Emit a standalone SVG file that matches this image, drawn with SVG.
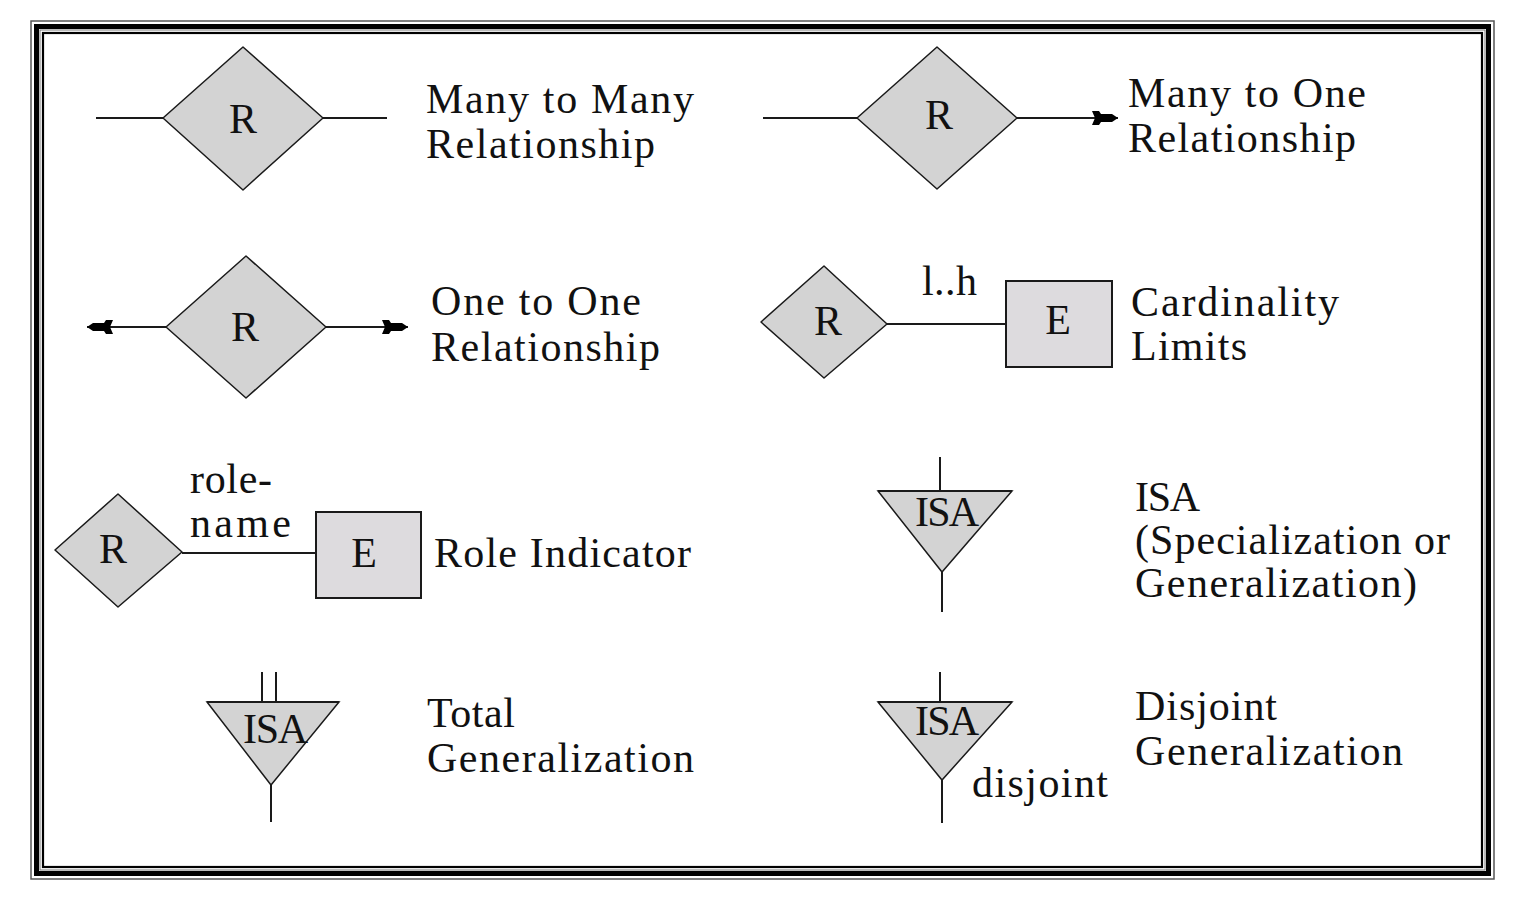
<svg xmlns="http://www.w3.org/2000/svg" width="1513" height="914" viewBox="0 0 1513 914">
<style>
.t{font-family:"Liberation Serif","Times New Roman",serif;font-size:42px;fill:#111}
.c{text-anchor:middle}
.ln{stroke:#1a1a1a;stroke-width:2;fill:none}
.dm{fill:#d3d3d3;stroke:#1a1a1a;stroke-width:1.5;stroke-linejoin:round}
.en{fill:#dddbde;stroke:#1a1a1a;stroke-width:2}
.isa{fill:#d3d3d3;stroke:#1a1a1a;stroke-width:1.5}
</style>
<defs>
<marker id="ah" viewBox="-28 -9 30 18" refX="0" refY="0" markerWidth="30" markerHeight="18" markerUnits="userSpaceOnUse" orient="auto-start-reverse">
<path d="M0,0 L-6,-4 L-17,-4 L-19,-7 L-26,-7 L-23,0 L-26,7 L-19,7 L-17,4 L-6,4 Z" fill="#000"/>
</marker>
</defs>
<rect width="1513" height="914" fill="#fff"/>
<g id="frame" fill="none">
<rect x="31" y="21" width="1463" height="858" stroke="#555" stroke-width="1.5"/>
<rect x="36.5" y="26.5" width="1452" height="847" stroke="#000" stroke-width="5"/>
<rect x="40" y="30" width="1445" height="840" stroke="#777" stroke-width="1"/>
<rect x="43" y="33" width="1439" height="834" stroke="#000" stroke-width="2.2"/>
</g>
<g id="connectors">
<line class="ln" x1="96" y1="118" x2="163" y2="118"/>
<line class="ln" x1="323" y1="118" x2="387" y2="118"/>
<line class="ln" x1="763" y1="118" x2="857" y2="118"/>
<line class="ln" x1="1017" y1="118" x2="1118" y2="118" marker-end="url(#ah)"/>
<line class="ln" x1="87" y1="327" x2="166" y2="327" marker-start="url(#ah)"/>
<line class="ln" x1="326" y1="327" x2="408" y2="327" marker-end="url(#ah)"/>
<line class="ln" x1="887" y1="324" x2="1006" y2="324"/>
<line class="ln" x1="182" y1="553" x2="316" y2="553"/>
<line class="ln" x1="940" y1="457" x2="940" y2="491"/>
<line class="ln" x1="942" y1="572" x2="942" y2="612"/>
<line class="ln" x1="262" y1="672" x2="262" y2="702"/>
<line class="ln" x1="276" y1="672" x2="276" y2="702"/>
<line class="ln" x1="271" y1="785" x2="271" y2="822"/>
<line class="ln" x1="940" y1="672" x2="940" y2="702"/>
<line class="ln" x1="942" y1="780" x2="942" y2="823"/>
</g>
<g id="mm">
<polygon class="dm" points="163,118 243,47 323,118 243,190"/>
<text class="t c" x="243" y="133">R</text>
<text class="t" x="426" y="113" textLength="268" lengthAdjust="spacing">Many to Many</text>
<text class="t" x="426" y="158" textLength="229" lengthAdjust="spacing">Relationship</text>
</g>
<g id="mo">
<polygon class="dm" points="857,118 937,47 1017,118 937,189"/>
<text class="t c" x="939" y="129">R</text>
<text class="t" x="1128" y="107" textLength="238" lengthAdjust="spacing">Many to One</text>
<text class="t" x="1128" y="152" textLength="228" lengthAdjust="spacing">Relationship</text>
</g>
<g id="oo">
<polygon class="dm" points="166,327 246,256 326,327 246,398"/>
<text class="t c" x="245" y="341">R</text>
<text class="t" x="431" y="315" textLength="210" lengthAdjust="spacing">One to One</text>
<text class="t" x="431" y="361" textLength="229" lengthAdjust="spacing">Relationship</text>
</g>
<g id="card">
<polygon class="dm" points="761,322 824,266 887,324 824,378"/>
<text class="t c" x="828" y="335">R</text>
<text class="t" x="922" y="295" textLength="55" lengthAdjust="spacing">l..h</text>
<rect class="en" x="1006" y="281" width="106" height="86"/>
<text class="t c" x="1058" y="334">E</text>
<text class="t" x="1131" y="316" textLength="208" lengthAdjust="spacing">Cardinality</text>
<text class="t" x="1131" y="360" textLength="116" lengthAdjust="spacing">Limits</text>
</g>
<g id="role">
<polygon class="dm" points="55,550 118,494 182,552 118,607"/>
<text class="t c" x="113" y="563">R</text>
<text class="t" x="190" y="493" textLength="82" lengthAdjust="spacing">role-</text>
<text class="t" x="190" y="537" textLength="101" lengthAdjust="spacing">name</text>
<rect class="en" x="316" y="512" width="105" height="86"/>
<text class="t c" x="364" y="567">E</text>
<text class="t" x="434" y="567" textLength="257" lengthAdjust="spacing">Role Indicator</text>
</g>
<g id="isa">
<polygon class="isa" points="878,491 1012,491 942,572"/>
<line class="ln" x1="878" y1="491" x2="1012" y2="491"/>
<text class="t" x="915" y="526" textLength="64" lengthAdjust="spacing">ISA</text>
<text class="t" x="1135" y="511" textLength="65" lengthAdjust="spacing">ISA</text>
<text class="t" x="1135" y="554" textLength="315" lengthAdjust="spacing">(Specialization or</text>
<text class="t" x="1135" y="597" textLength="282" lengthAdjust="spacing">Generalization)</text>
</g>
<g id="total">
<polygon class="isa" points="207,702 339,702 271,785"/>
<line class="ln" x1="207" y1="702" x2="339" y2="702"/>
<text class="t" x="243" y="743" textLength="65" lengthAdjust="spacing">ISA</text>
<text class="t" x="427" y="727" textLength="88" lengthAdjust="spacing">Total</text>
<text class="t" x="427" y="772" textLength="267" lengthAdjust="spacing">Generalization</text>
</g>
<g id="disjoint">
<polygon class="isa" points="878,702 1012,702 942,780"/>
<line class="ln" x1="878" y1="702" x2="1012" y2="702"/>
<text class="t" x="915" y="735" textLength="64" lengthAdjust="spacing">ISA</text>
<text class="t" x="972" y="797" textLength="136" lengthAdjust="spacing">disjoint</text>
<text class="t" x="1135" y="720" textLength="142" lengthAdjust="spacing">Disjoint</text>
<text class="t" x="1135" y="765" textLength="268" lengthAdjust="spacing">Generalization</text>
</g>
</svg>
